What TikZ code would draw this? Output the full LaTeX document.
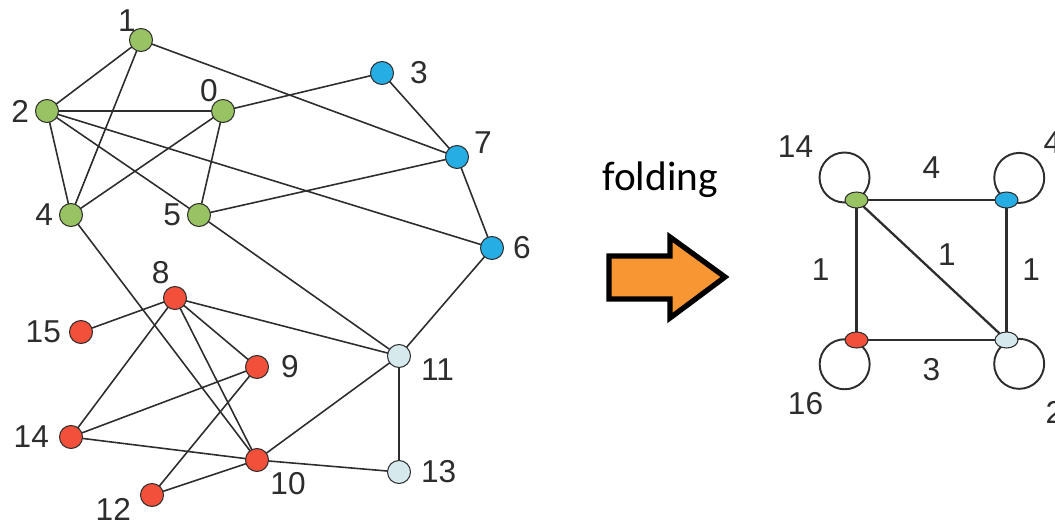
\documentclass[tikz,border=0pt]{standalone}
\usepackage{fontspec}
\setmainfont{Liberation Sans}
\newfontfamily\foldingfont{Carlito}
\usepackage{tikz}
\usepackage{tikz-network}
\usetikzlibrary{shapes.geometric}

\definecolor{nodegreen}{RGB}{152,195,98}
\definecolor{nodeblue}{RGB}{38,174,228}
\definecolor{nodered}{RGB}{242,80,58}
\definecolor{nodepale}{RGB}{214,234,238}
\definecolor{edgegray}{RGB}{45,45,45}
\definecolor{foldorange}{RGB}{247,150,50}
\newcommand{\numfont}{\fontsize{18}{21}\selectfont}

\begin{document}
\begin{tikzpicture}[every label/.append style={inner sep=1pt},
      loopline/.style={draw=edgegray,line width=1.1pt},
      weightlabel/.style={font=\numfont,text=edgegray,inner sep=0pt}]
      \useasboundingbox (0,0) rectangle (21.1,10.44);
      \SetVertexStyle[LineWidth=0.6pt,LineColor=edgegray,TextFont=\numfont,TextColor=edgegray]
      \SetEdgeStyle[Color=edgegray,LineWidth=0.9pt,TextFont=\numfont]

      \Vertex[x=4.46,y=8.22,size=.46,color=nodegreen,label=0,position=113,distance=-0.07cm]{v0}
      \Vertex[x=2.82,y=9.64,size=.46,color=nodegreen,label=1,position=116,distance=-0.08cm]{v1}
      \Vertex[x=0.94,y=8.22,size=.46,color=nodegreen,label=2,position=180,distance=0.09cm]{v2}
      \Vertex[x=7.64,y=8.98,size=.46,color=nodeblue,label=3,position=0,distance=0.29cm]{v3}
      \Vertex[x=1.42,y=6.14,size=.46,color=nodegreen,label=4,position=180,distance=0.09cm]{v4}
      \Vertex[x=3.98,y=6.14,size=.46,color=nodegreen,label=5,position=180,distance=0.09cm]{v5}
      \Vertex[x=9.84,y=5.48,size=.46,color=nodeblue,label=6,position=0,distance=0.15cm]{v6}
      \Vertex[x=9.14,y=7.30,size=.46,color=nodeblue,label=7,position=5,distance=0.07cm]{v7}
      \Vertex[x=3.50,y=4.48,size=.46,color=nodered,label=8,position=105,distance=0.03cm]{v8}
      \Vertex[x=5.14,y=3.10,size=.46,color=nodered,label=9,position=0,distance=0.21cm]{v9}
      \Vertex[x=5.14,y=1.24,size=.46,color=nodered,label=10,position=-43,distance=0.08cm]{v10}
      \Vertex[x=7.98,y=3.32,size=.46,color=nodepale,label=11,position=-3,distance=0.17cm]{v11}
      \Vertex[x=3.04,y=0.54,size=.46,color=nodered,label=12,position=183,distance=0.15cm]{v12}
      \Vertex[x=7.98,y=1.00,size=.46,color=nodepale,label=13,position=0,distance=0.17cm]{v13}
      \Vertex[x=1.42,y=1.70,size=.46,color=nodered,label=14,position=180,distance=0.17cm]{v14}
      \Vertex[x=1.62,y=3.80,size=.46,color=nodered,label=15,position=180,distance=0.13cm]{v15}

      \Vertex[x=17.13,y=6.44,size=.32,color=nodegreen,shape=ellipse,style={minimum width=.46cm}]{c1}
      \Vertex[x=20.13,y=6.44,size=.32,color=nodeblue,shape=ellipse,style={minimum width=.46cm}]{c2}
      \Vertex[x=17.13,y=3.64,size=.32,color=nodered,shape=ellipse,style={minimum width=.46cm}]{c3}
      \Vertex[x=20.13,y=3.64,size=.32,color=nodepale,shape=ellipse,style={minimum width=.46cm}]{c4}

      \Edge(v1)(v2)
      \Edge(v1)(v4)
      \Edge(v1)(v7)
      \Edge(v2)(v0)
      \Edge(v2)(v4)
      \Edge(v2)(v5)
      \Edge(v2)(v6)
      \Edge(v0)(v3)
      \Edge(v0)(v4)
      \Edge(v0)(v5)
      \Edge(v3)(v7)
      \Edge(v7)(v5)
      \Edge(v7)(v6)
      \Edge(v4)(v10)
      \Edge(v5)(v11)
      \Edge(v6)(v11)
      \Edge(v8)(v15)
      \Edge(v8)(v14)
      \Edge(v8)(v9)
      \Edge(v8)(v10)
      \Edge(v8)(v11)
      \Edge(v9)(v14)
      \Edge(v9)(v12)
      \Edge(v14)(v10)
      \Edge(v12)(v10)
      \Edge(v10)(v11)
      \Edge(v10)(v13)
      \Edge(v11)(v13)

      \Edge[lw=1.3pt,label=4,position={above=0.33cm}](c1)(c2)
      \Edge[lw=1.3pt,label=1,position={left=0.4cm}](c1)(c3)
      \Edge[lw=1.3pt,label=1,position={above right=0.12cm}](c1)(c4)
      \Edge[lw=1.3pt,label=1,position={right=0.18cm}](c2)(c4)
      \Edge[lw=1.3pt,label=3,position={below=0.27cm}](c3)(c4)

      % self-loops of the folded graph
      \begin{pgfonlayer}{background}
      \draw[loopline] (c1) ++(118:.51) circle[radius=.5];
      \draw[loopline] (c2) ++(60:.51) circle[radius=.5];
      \draw[loopline] (c3) ++(244:.54) circle[radius=.5];
      \draw[loopline] (c4) ++(298:.54) circle[radius=.5];
      \end{pgfonlayer}
      \node[weightlabel] (w14) at ([shift={(-1.22,1.06)}]c1) {14};
      \node[weightlabel] (w4) at ([shift={(0.92,1.14)}]c2) {4};
      \node[weightlabel] (w16) at ([shift={(-1.02,-1.28)}]c3) {16};
      \node[weightlabel] (w2) at ([shift={(0.96,-1.44)}]c4) {2};

      \node[font=\foldingfont\fontsize{23.5}{28}\selectfont] (fold) at (13.2,6.84) {folding};
      \draw[line width=3pt,fill=foldorange] (12.18,5.32) -- (13.40,5.32) -- (13.40,5.70) -- (14.50,4.90)
        -- (13.40,4.08) -- (13.40,4.46) -- (12.18,4.46) -- cycle;
   \end{tikzpicture}
\end{document}
